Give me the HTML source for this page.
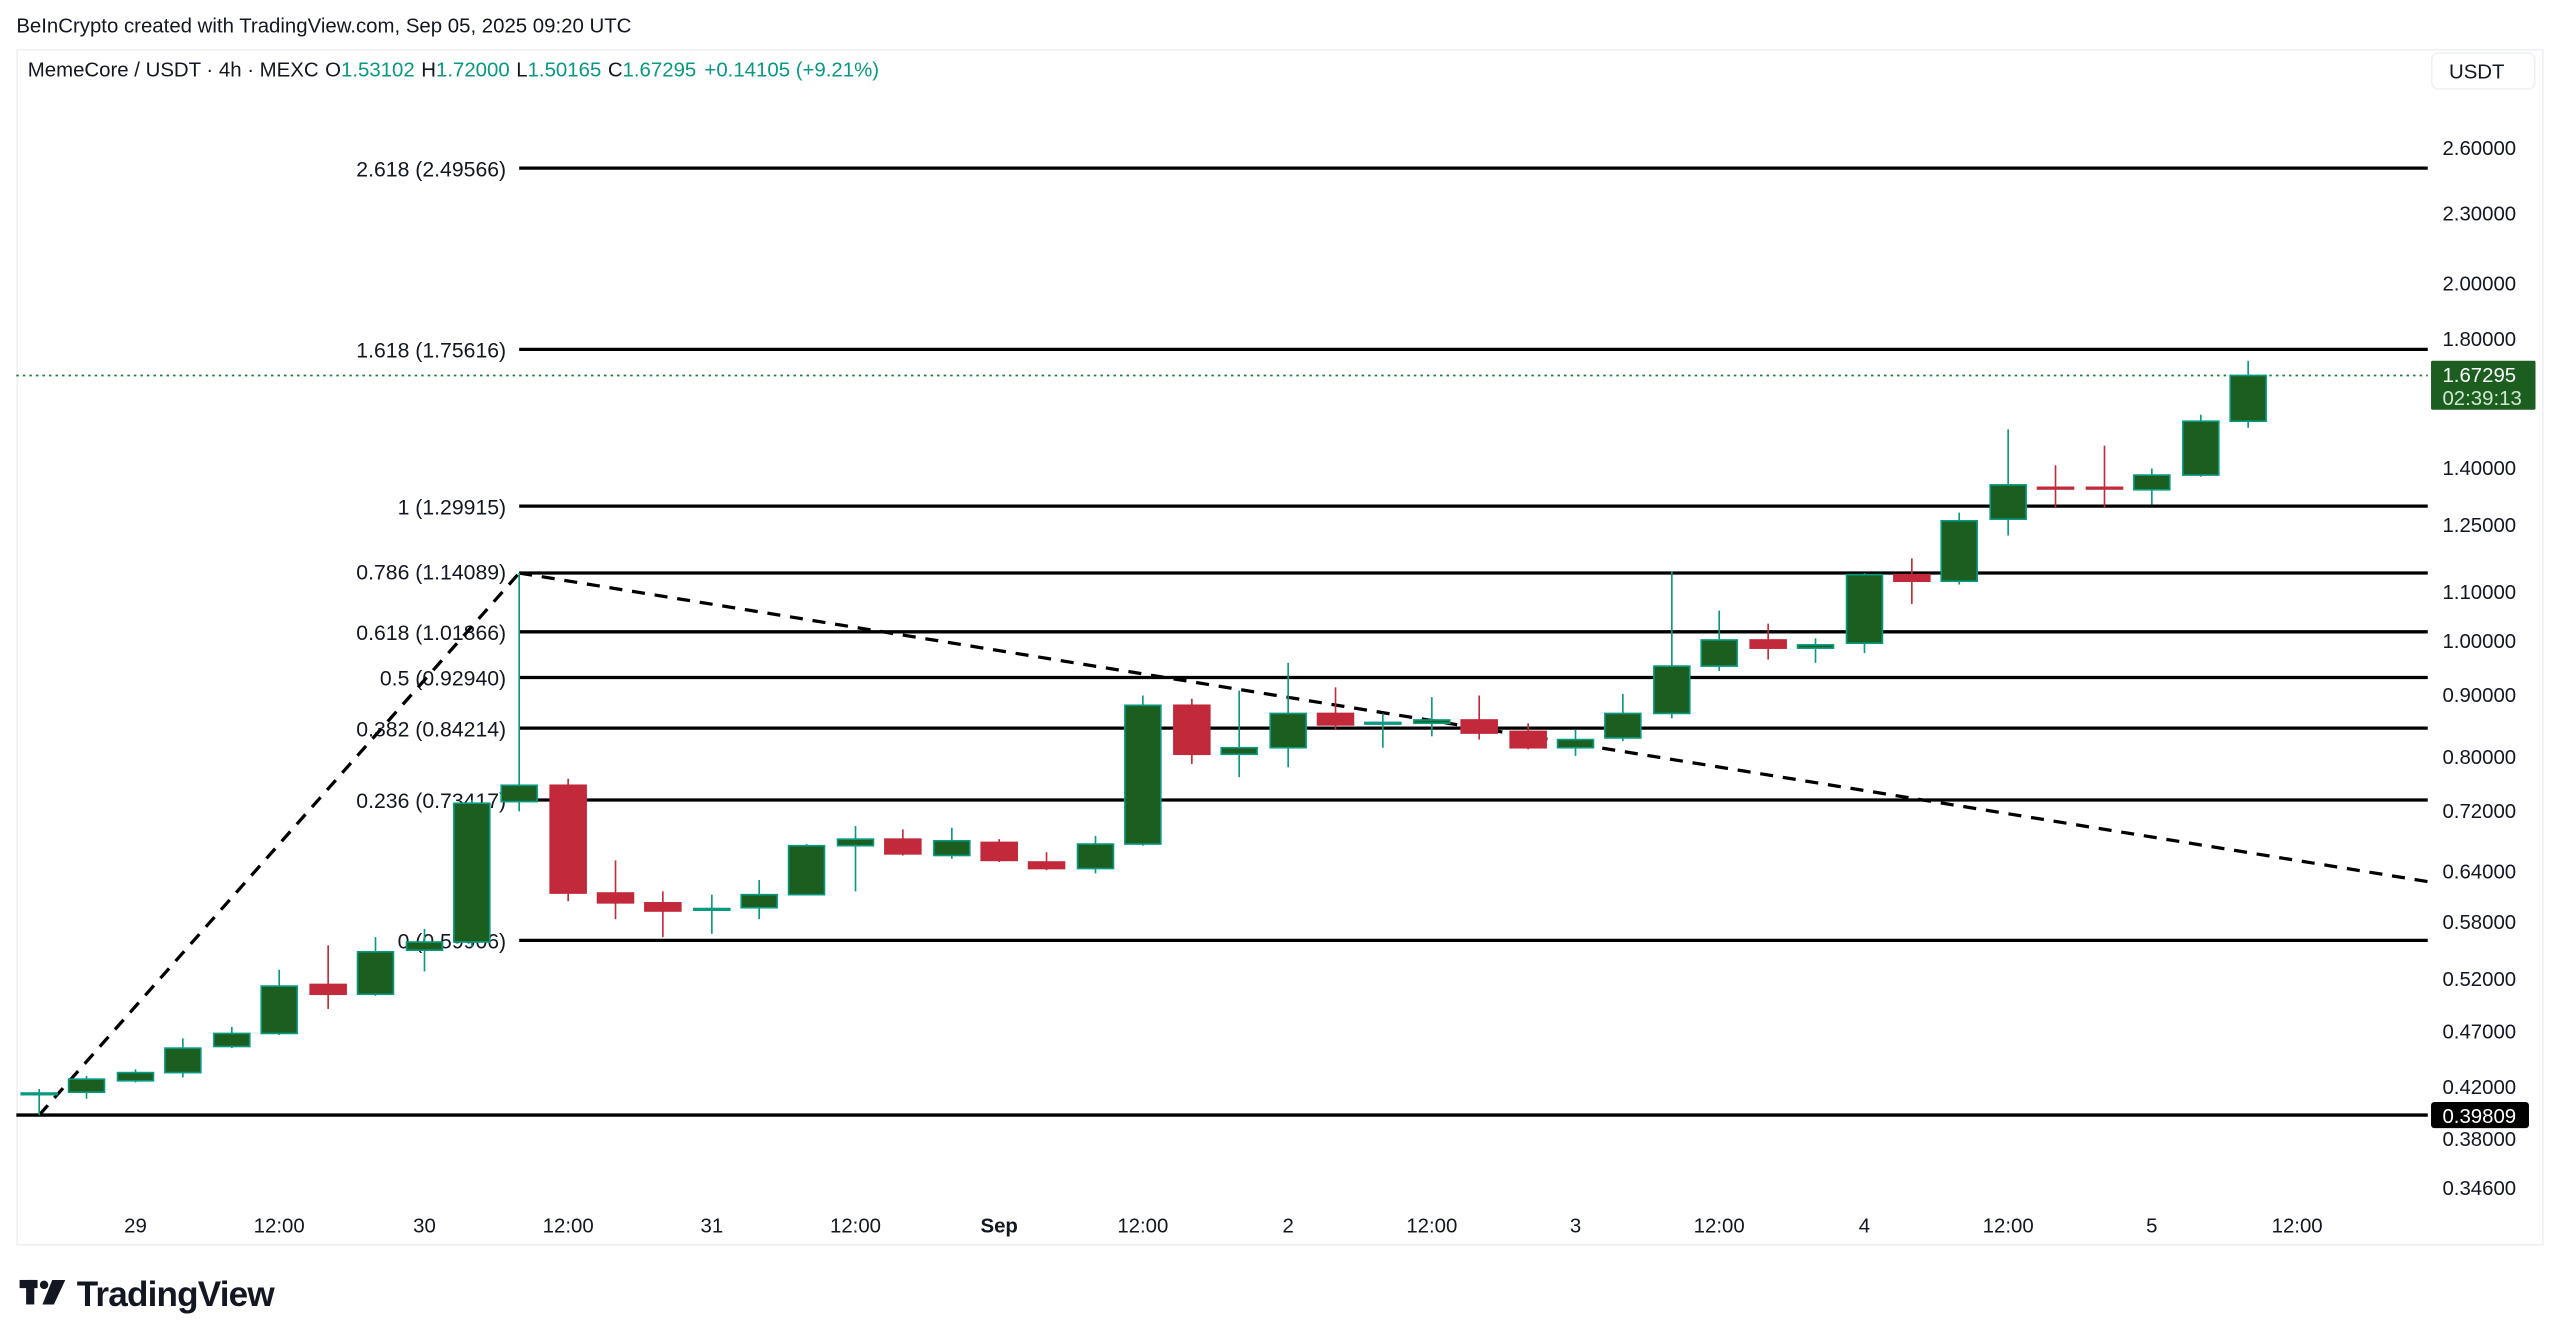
<!DOCTYPE html>
<html><head><meta charset="utf-8"><style>
html,body{margin:0;padding:0;background:#fff;}
svg{display:block;}
text{font-family:"Liberation Sans",sans-serif;}
</style></head><body>
<svg width="2560" height="1342" viewBox="0 0 1568 822" preserveAspectRatio="none" xmlns="http://www.w3.org/2000/svg">
<rect x="0" y="0" width="1568" height="822" fill="#fff"/>
<text x="10" y="20" font-size="12.5" fill="#131722">BeInCrypto created with TradingView.com, Sep 05, 2025 09:20 UTC</text>
<rect x="10.5" y="30.5" width="1547" height="732" fill="#fff" stroke="#eef0f3"/>
<text x="17" y="47" font-size="12.5" fill="#131722">MemeCore / USDT · 4h · MEXC<tspan dx="4">O</tspan><tspan fill="#089981">1.53102</tspan><tspan dx="4">H</tspan><tspan fill="#089981">1.72000</tspan><tspan dx="4">L</tspan><tspan fill="#089981">1.50165</tspan><tspan dx="4">C</tspan><tspan fill="#089981">1.67295</tspan><tspan dx="5" fill="#089981">+0.14105 (+9.21%)</tspan></text>
<rect x="1489.5" y="32.5" width="63" height="22" rx="4" fill="#fff" stroke="#eef0f3"/>
<text x="1500" y="48" font-size="12.5" fill="#131722">USDT</text>
<g font-size="12.5" fill="#131722">
<text x="1496" y="95">2.60000</text><text x="1496" y="135">2.30000</text><text x="1496" y="178">2.00000</text><text x="1496" y="212">1.80000</text><text x="1496" y="291">1.40000</text><text x="1496" y="326">1.25000</text><text x="1496" y="367">1.10000</text><text x="1496" y="397">1.00000</text><text x="1496" y="430">0.90000</text><text x="1496" y="468">0.80000</text><text x="1496" y="501">0.72000</text><text x="1496" y="538">0.64000</text><text x="1496" y="569">0.58000</text><text x="1496" y="604">0.52000</text><text x="1496" y="636">0.47000</text><text x="1496" y="670">0.42000</text><text x="1496" y="702">0.38000</text><text x="1496" y="732">0.34600</text>
</g>
<line x1="10" y1="230" x2="1487" y2="230" stroke="#1b7a3a" stroke-width="1" stroke-dasharray="1.5 2.5"/>
<rect x="1489" y="221" width="64" height="30" rx="1" fill="#1b5e20"/>
<text x="1496" y="234" font-size="12.5" fill="#fff">1.67295</text>
<text x="1496" y="248" font-size="12.5" fill="#d0e8d0">02:39:13</text>
<rect x="1489" y="675" width="60" height="16" rx="2" fill="#000"/>
<text x="1496" y="688" font-size="12.5" fill="#fff">0.39809</text>
<g stroke="#000" stroke-width="2">
<line x1="318" y1="103" x2="1487" y2="103"/><line x1="318" y1="214" x2="1487" y2="214"/><line x1="318" y1="310" x2="1487" y2="310"/><line x1="318" y1="351" x2="1487" y2="351"/><line x1="318" y1="387" x2="1487" y2="387"/><line x1="318" y1="415" x2="1487" y2="415"/><line x1="318" y1="446" x2="1487" y2="446"/><line x1="318" y1="490" x2="1487" y2="490"/><line x1="318" y1="576" x2="1487" y2="576"/><line x1="10" y1="683" x2="1487" y2="683"/>
</g>
<g font-size="13" fill="#131722" text-anchor="end">
<text x="310" y="108">2.618 (2.49566)</text><text x="310" y="219">1.618 (1.75616)</text><text x="310" y="315">1 (1.29915)</text><text x="310" y="355">0.786 (1.14089)</text><text x="310" y="392">0.618 (1.01866)</text><text x="310" y="420">0.5 (0.92940)</text><text x="310" y="451">0.382 (0.84214)</text><text x="310" y="495">0.236 (0.73417)</text><text x="310" y="581">0 (0.59906)</text>
</g>
<g stroke="#000" stroke-width="2" stroke-dasharray="8 6" fill="none">
<line x1="24" y1="683" x2="318" y2="351"/><line x1="318" y1="351" x2="1487" y2="540"/>
</g>
<g stroke-width="1">
<g stroke="#089981" fill="#1b5e20">
<line x1="24" y1="667" x2="24" y2="683"/><rect x="13" y="669.5" width="22" height="1"/>
<line x1="53" y1="659" x2="53" y2="673"/><rect x="42" y="661" width="22" height="8"/>
<line x1="83" y1="655" x2="83" y2="663"/><rect x="72" y="657" width="22" height="5"/>
<line x1="112" y1="636" x2="112" y2="660"/><rect x="101" y="642" width="22" height="15"/>
<line x1="142" y1="629" x2="142" y2="642"/><rect x="131" y="633" width="22" height="8"/>
<line x1="171" y1="594" x2="171" y2="634"/><rect x="160" y="604" width="22" height="29"/>
<line x1="230" y1="574" x2="230" y2="610"/><rect x="219" y="583" width="22" height="26"/>
<line x1="260" y1="569" x2="260" y2="595"/><rect x="249" y="577" width="22" height="5"/>
<line x1="289" y1="490" x2="289" y2="580"/><rect x="278" y="492" width="22" height="85"/>
<line x1="318" y1="351" x2="318" y2="497"/><rect x="307" y="481" width="22" height="10"/>
<line x1="436" y1="548" x2="436" y2="572"/><rect x="425" y="556.5" width="22" height="1"/>
<line x1="465" y1="539" x2="465" y2="563"/><rect x="454" y="548" width="22" height="8"/>
<line x1="494" y1="517" x2="494" y2="548"/><rect x="483" y="518" width="22" height="30"/>
<line x1="524" y1="506" x2="524" y2="546"/><rect x="513" y="514" width="22" height="4"/>
<line x1="583" y1="507" x2="583" y2="526"/><rect x="572" y="515" width="22" height="9"/>
<line x1="671" y1="512" x2="671" y2="535"/><rect x="660" y="517" width="22" height="15"/>
<line x1="700" y1="426" x2="700" y2="518"/><rect x="689" y="432" width="22" height="85"/>
<line x1="759" y1="423" x2="759" y2="476"/><rect x="748" y="458" width="22" height="4"/>
<line x1="789" y1="406" x2="789" y2="470"/><rect x="778" y="437" width="22" height="21"/>
<line x1="847" y1="437" x2="847" y2="458"/><rect x="836" y="442.5" width="22" height="1"/>
<line x1="877" y1="427" x2="877" y2="451"/><rect x="866" y="441" width="22" height="2"/>
<line x1="965" y1="447" x2="965" y2="463"/><rect x="954" y="453" width="22" height="5"/>
<line x1="994" y1="425" x2="994" y2="454"/><rect x="983" y="437" width="22" height="15"/>
<line x1="1024" y1="350" x2="1024" y2="440"/><rect x="1013" y="408" width="22" height="29"/>
<line x1="1053" y1="374" x2="1053" y2="411"/><rect x="1042" y="392" width="22" height="16"/>
<line x1="1112" y1="391" x2="1112" y2="406"/><rect x="1101" y="395" width="22" height="2"/>
<line x1="1142" y1="351" x2="1142" y2="400"/><rect x="1131" y="352" width="22" height="42"/>
<line x1="1200" y1="314" x2="1200" y2="358"/><rect x="1189" y="319" width="22" height="37"/>
<line x1="1230" y1="263" x2="1230" y2="328"/><rect x="1219" y="297" width="22" height="21"/>
<line x1="1318" y1="287" x2="1318" y2="309"/><rect x="1307" y="291" width="22" height="9"/>
<line x1="1348" y1="254" x2="1348" y2="292"/><rect x="1337" y="258" width="22" height="33"/>
<line x1="1377" y1="221" x2="1377" y2="262"/><rect x="1366" y="230" width="22" height="28"/>
</g>
<g stroke="#c2293b" fill="#c2293b">
<line x1="201" y1="579" x2="201" y2="618"/><rect x="190" y="603" width="22" height="6"/>
<line x1="348" y1="477" x2="348" y2="552"/><rect x="337" y="481" width="22" height="66"/>
<line x1="377" y1="527" x2="377" y2="563"/><rect x="366" y="547" width="22" height="6"/>
<line x1="406" y1="546" x2="406" y2="574"/><rect x="395" y="553" width="22" height="5"/>
<line x1="553" y1="508" x2="553" y2="524"/><rect x="542" y="514" width="22" height="9"/>
<line x1="612" y1="514" x2="612" y2="528"/><rect x="601" y="516" width="22" height="11"/>
<line x1="641" y1="522" x2="641" y2="533"/><rect x="630" y="528" width="22" height="4"/>
<line x1="730" y1="428" x2="730" y2="468"/><rect x="719" y="432" width="22" height="30"/>
<line x1="818" y1="421" x2="818" y2="447"/><rect x="807" y="437" width="22" height="7"/>
<line x1="906" y1="426" x2="906" y2="453"/><rect x="895" y="441" width="22" height="8"/>
<line x1="936" y1="443" x2="936" y2="459"/><rect x="925" y="448" width="22" height="10"/>
<line x1="1083" y1="382" x2="1083" y2="404"/><rect x="1072" y="392" width="22" height="5"/>
<line x1="1171" y1="342" x2="1171" y2="370"/><rect x="1160" y="352" width="22" height="4"/>
<line x1="1259" y1="285" x2="1259" y2="311"/><rect x="1248" y="298.5" width="22" height="1"/>
<line x1="1289" y1="273" x2="1289" y2="311"/><rect x="1278" y="298.5" width="22" height="1"/>
</g>
</g>
<g font-size="12.5" fill="#131722" text-anchor="middle">
<text x="83" y="755">29</text><text x="171" y="755">12:00</text><text x="260" y="755">30</text><text x="348" y="755">12:00</text><text x="436" y="755">31</text><text x="524" y="755">12:00</text><text x="612" y="755" font-weight="bold">Sep</text><text x="700" y="755">12:00</text><text x="789" y="755">2</text><text x="877" y="755">12:00</text><text x="965" y="755">3</text><text x="1053" y="755">12:00</text><text x="1142" y="755">4</text><text x="1230" y="755">12:00</text><text x="1318" y="755">5</text><text x="1407" y="755">12:00</text>
</g>
<g fill="#131722">
<rect x="12" y="784" width="11" height="5"/><rect x="16" y="784" width="5" height="15"/>
<circle cx="27" cy="787" r="2.6"/><polygon points="32,784 40,784 33,799 26,799"/>
<text x="47" y="800" font-size="21.5" font-weight="bold" letter-spacing="-0.5">TradingView</text>
</g>
</svg>
</body></html>
